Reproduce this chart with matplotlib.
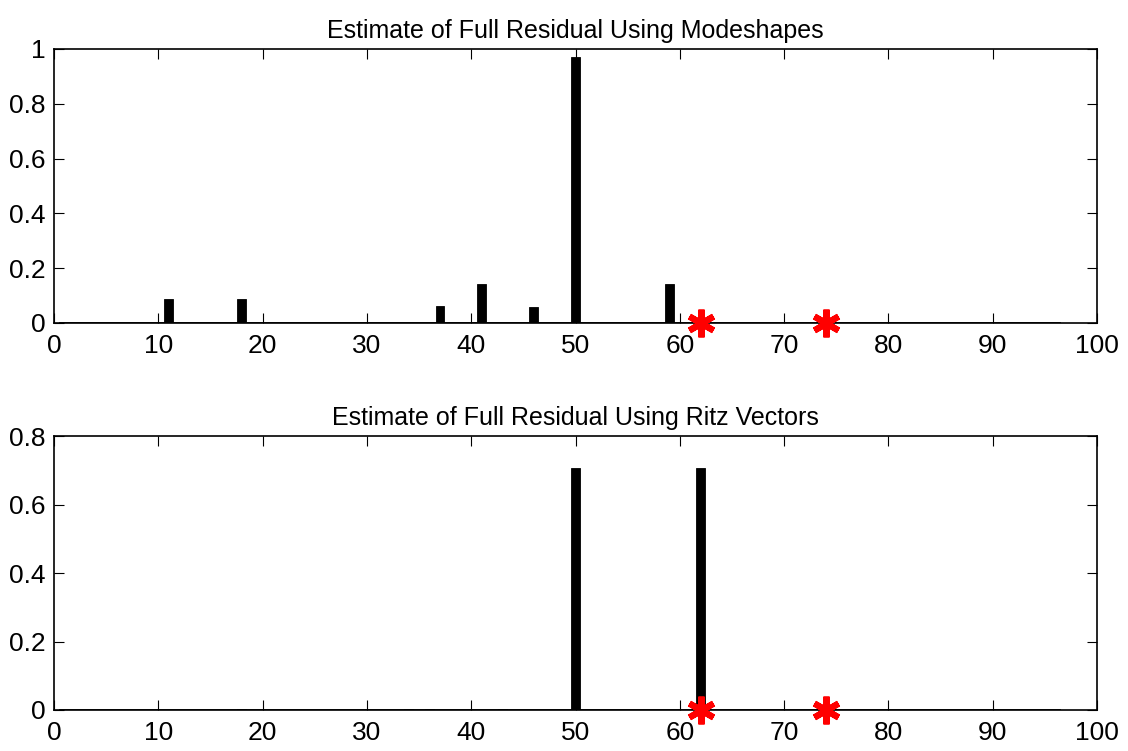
import numpy as np
import matplotlib.pyplot as plt

plt.rcParams['font.family'] = ['Liberation Sans', 'DejaVu Sans']

n_modes = 96
modes_idx = [11, 18, 37, 41, 46, 50, 59]
modes_val = [0.088, 0.088, 0.06, 0.142, 0.059, 0.972, 0.142]

ritz_idx = [18, 34, 36, 43, 50, 62]
ritz_val = [0.003, 0.003, 0.003, 0.003, 0.708, 0.708]

star_idx = [62, 74]
star_val = [0, 0]

titles = ['Estimate of Full Residual Using Modeshapes',
          'Estimate of Full Residual Using Ritz Vectors']
ylims = [(0, 1), (0, 0.8)]
yticks = [np.arange(0, 1.01, 0.2), np.arange(0, 0.81, 0.2)]

x = np.arange(1, n_modes + 1)
series = []
for idx, val in [(modes_idx, modes_val), (ritz_idx, ritz_val)]:
    y = np.zeros(n_modes)
    y[np.array(idx) - 1] = val
    series.append(y)

fig = plt.figure(figsize=(11.28, 7.51), dpi=100)
positions = [[0.048, 0.570, 0.9245, 0.3648], [0.048, 0.0546, 0.9245, 0.3648]]

for i in range(2):
    ax = fig.add_axes(positions[i])
    ax.bar(x, series[i], width=0.85, color='black', edgecolor='black', linewidth=0.6, zorder=2)
    ax.plot([x[0] - 0.4, x[-1] + 0.4], [0, 0], color='black', lw=2, zorder=3)
    ax.plot(star_idx, star_val, linestyle='none', marker=(6, 2, 0), markersize=20,
            markeredgewidth=4.5, color='red', clip_on=False, zorder=4)
    ax.set_xlim(0, 100)
    ax.set_ylim(*ylims[i])
    ax.set_xticks(np.arange(0, 101, 10))
    ax.set_yticks(yticks[i])
    ax.set_yticklabels(['0' if v == 0 else ('1' if v == 1 else f'{v:.1f}') for v in yticks[i]])
    ax.set_title(titles[i], fontsize=18, pad=8)
    ax.tick_params(direction='in', length=7, width=0.8, labelsize=19, top=True, right=True)
    ax.tick_params(axis='x', pad=8)
    ax.tick_params(axis='y', pad=6)
    for s in ax.spines.values():
        s.set_linewidth(1.2)

plt.savefig('out.png', dpi=100)
